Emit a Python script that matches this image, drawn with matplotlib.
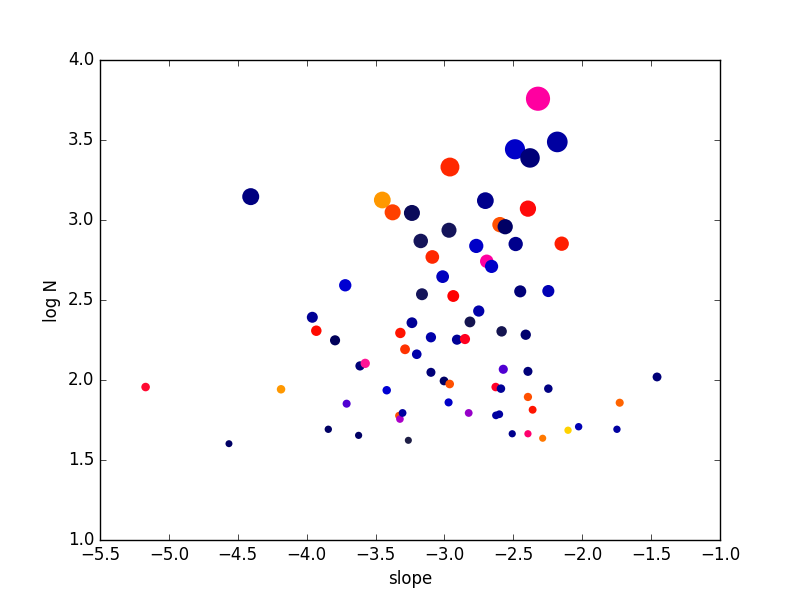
import numpy as np
import matplotlib
matplotlib.use('Agg')
import matplotlib.pyplot as plt

plt.style.use('classic')

# slope, log N and colour of every source
slope = [-4.406, -3.451, -3.376, -3.236, -3.72,
         -2.321, -2.488, -2.379, -2.181, -2.96, -2.703, -2.394,
         -2.597, -2.559, -2.967, -3.172, -3.088, -2.769, -2.483, -2.149,
         -2.693, -2.658, -3.013, -3.163, -2.45, -2.246, -2.936,
         -3.959, -3.93, -3.794, -3.32, -3.286, -3.236, -3.613, -3.575,
         -5.169, -4.186, -3.419, -3.71, -3.33, -3.323, -3.304,
         -3.843, -3.623, -4.564, -3.262,
         -2.751, -2.815, -3.098, -2.909, -2.851, -2.585, -2.41, -3.201,
         -3.098, -3.003, -2.962, -2.573, -2.394, -2.628, -2.59, -2.246,
         -1.457, -2.394, -2.36, -1.728, -2.97, -2.824, -2.626, -2.602,
         -2.508, -2.394, -2.287, -2.103, -2.026, -1.748]
logN = [3.146, 3.125, 3.048, 3.044, 2.592,
        3.758, 3.442, 3.388, 3.488, 3.331, 3.121, 3.071,
        2.971, 2.958, 2.936, 2.869, 2.769, 2.838, 2.85, 2.852,
        2.742, 2.71, 2.646, 2.536, 2.554, 2.556, 2.525,
        2.392, 2.308, 2.248, 2.294, 2.192, 2.358, 2.088, 2.104,
        1.956, 1.942, 1.936, 1.852, 1.777, 1.756, 1.794,
        1.692, 1.654, 1.602, 1.623,
        2.431, 2.363, 2.267, 2.252, 2.256, 2.304, 2.283, 2.161,
        2.048, 1.994, 1.975, 2.067, 2.054, 1.956, 1.946, 1.946,
        2.019, 1.894, 1.814, 1.858, 1.86, 1.794, 1.779, 1.786,
        1.664, 1.664, 1.636, 1.686, 1.708, 1.692]
colours = ['#000080', '#ff9800', '#ff4000', '#0a0a5a', '#0000d2',
           '#ff00a0', '#0000c8', '#000078', '#0000a0', '#ff2800', '#00008c', '#ff0a0a',
           '#ff5000', '#000064', '#14145a', '#14145a', '#ff2800', '#0000c8', '#00008c', '#ff1e00',
           '#ff00a0', '#0000c8', '#0000be', '#14145a', '#000078', '#0000b4', '#ff0000',
           '#000096', '#ff0a00', '#00005a', '#ff1400', '#ff3200', '#000096', '#000078', '#ff1496',
           '#ff0a32', '#ff9800', '#0000d2', '#5000d2', '#ff5000', '#aa00c8', '#0000a0',
           '#000064', '#000064', '#000064', '#1e1e46',
           '#0000aa', '#141450', '#0000aa', '#000096', '#ff001e', '#141450', '#00006e', '#0000aa',
           '#000078', '#000064', '#ff5000', '#5000d2', '#000078', '#ff0028', '#000096', '#000082',
           '#000078', '#ff5000', '#ff1400', '#ff6400', '#0000c8', '#9600c8', '#0000a0', '#0000a0',
           '#00008c', '#ff006e', '#ff7800', '#ffd200', '#0000b4', '#0000a0']

logN = np.array(logN)
sizes = 4.0 * 10 ** (logN / 2.0)  # marker area grows with sqrt(N)

fig = plt.figure(figsize=(8, 6), dpi=100)
ax = fig.add_axes([0.125, 0.1, 0.775, 0.8])
ax.scatter(slope, logN, s=sizes, c=colours, linewidths=0)
ax.set_xlim(-5.5, -1.0)
ax.set_ylim(1.0, 4.0)
ax.set_xlabel('slope')
ax.set_ylabel('log N')

fig.savefig('out.png', dpi=100)
